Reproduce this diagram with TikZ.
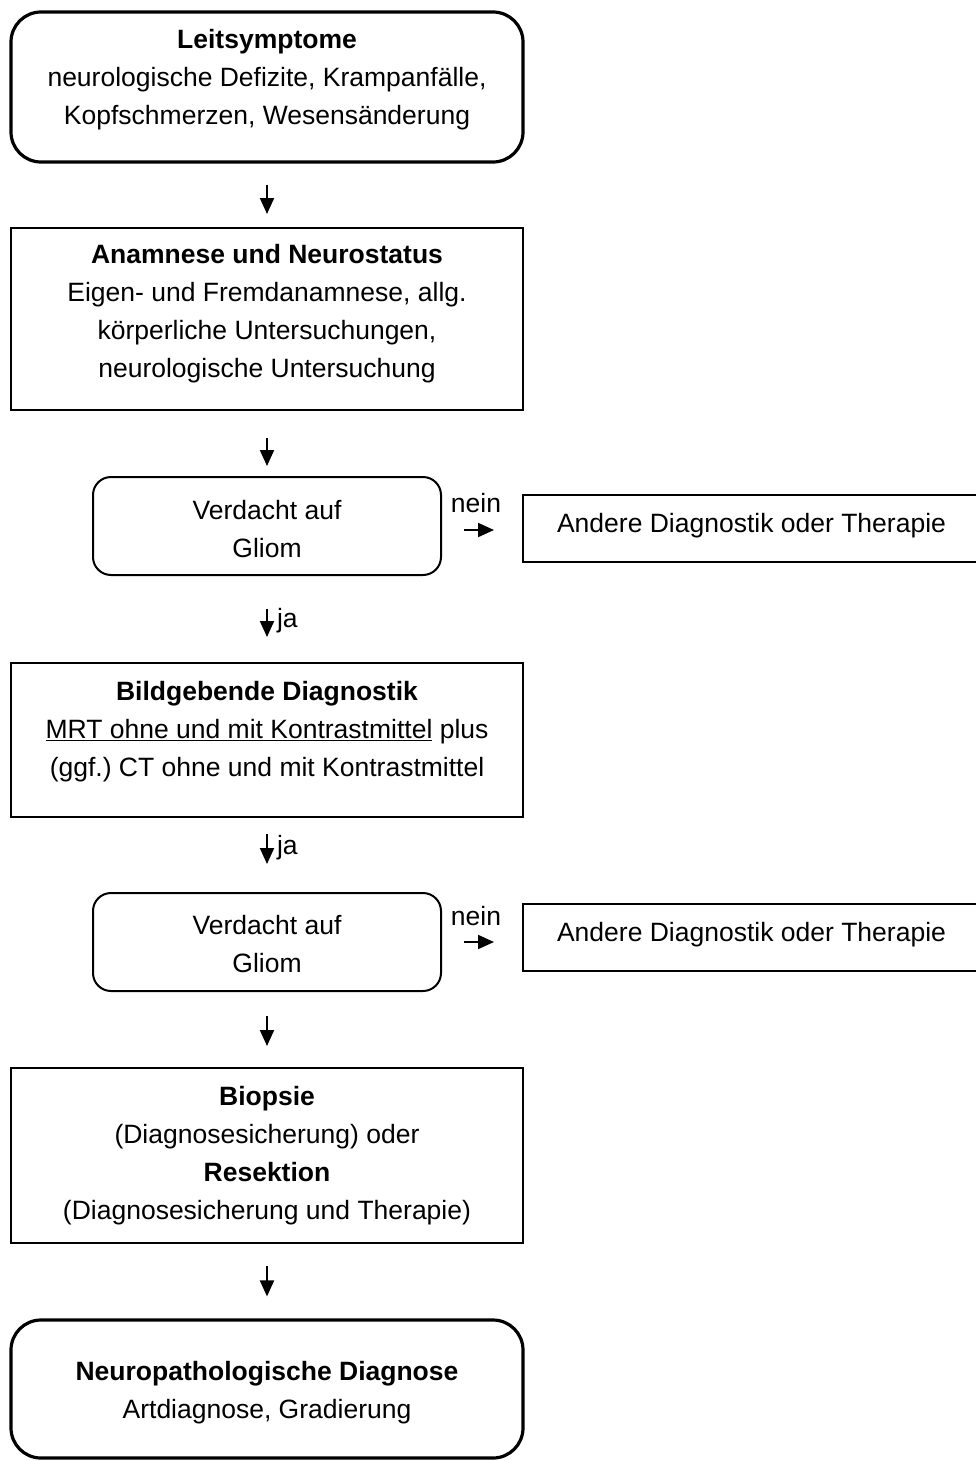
\documentclass[tikz,border=0pt]{standalone}
\usepackage{fontspec}
\setmainfont{Liberation Sans}
\frenchspacing
\usetikzlibrary{arrows.meta}
\begin{document}
\begin{tikzpicture}[x=1pt,y=-1pt,
  every node/.style={font=\fontsize{26.5}{38}\selectfont},
  bigbox/.style={draw, rectangle, line width=3.2pt, rounded corners=30pt, minimum width=512pt},
  plainbox/.style={draw, rectangle, line width=2pt, minimum width=512pt},
  askbox/.style={draw, rectangle, line width=2pt, rounded corners=18pt, minimum width=348pt, minimum height=98pt},
  otherbox/.style={draw, rectangle, line width=2pt, minimum width=477pt, minimum height=67pt},
  txt/.style={align=center, inner sep=0pt},
  lbl/.style={inner sep=0pt},
  arr/.style={line width=2pt, -{Triangle[width=14pt,length=16pt]}}
]
\useasboundingbox (0,0) rectangle (975,1461);
% boxes
\node[bigbox, minimum height=150pt] (b1) at (267,87) {};
\node[plainbox, minimum height=182pt] (b2) at (267,319) {};
\node[askbox] (v1) at (267,526) {};
\node[otherbox] (n1) at (761.5,528) {};
\node[plainbox, minimum height=154pt] (b3) at (267,740) {};
\node[askbox] (v2) at (267,942) {};
\node[otherbox] (n2) at (761.5,937) {};
\node[plainbox, minimum height=175pt] (b4) at (267,1155.5) {};
\node[bigbox, minimum height=138pt] (b5) at (267,1389) {};
% texts
\node[txt] (t1) at (267,80) {\textbf{Leitsymptome}\\neurologische Defizite, Krampanfälle,\\Kopfschmerzen, Wesensänderung};
\node[txt] (t2) at (267,314) {\textbf{Anamnese und Neurostatus}\\Eigen- und Fremdanamnese, allg.\\körperliche Untersuchungen,\\neurologische Untersuchung};
\node[txt] (tv1) at (267,529) {Verdacht auf\\Gliom};
\node[txt] (tn1) at (751.5,526) {Andere Diagnostik oder Therapie};
\node[txt] (t3) at (267,731.5) {\textbf{Bildgebende Diagnostik}\\\underline{MRT ohne und mit Kontrastmittel} plus\\(ggf.) CT ohne und mit Kontrastmittel};
\node[txt] (tv2) at (267,944.5) {Verdacht auf\\Gliom};
\node[txt] (tn2) at (751.5,935) {Andere Diagnostik oder Therapie};
\node[txt] (t4) at (267,1156) {\textbf{Biopsie}\\(Diagnosesicherung) oder\\\textbf{Resektion}\\(Diagnosesicherung und Therapie)};
\node[txt] (t5) at (267,1393) {\textbf{Neuropathologische Diagnose}\\Artdiagnose, Gradierung};
% vertical connectors
\draw[arr] ([yshift=-21pt]b1.south) -- ([yshift=13pt]b2.north);
\draw[arr] ([yshift=-27pt]b2.south) -- ([yshift=10pt]v1.north);
\draw[arr] ([yshift=-33pt]v1.south) -- node[right, lbl, xshift=9pt, pos=0.4] (ja1) {ja} ([yshift=25pt]b3.north);
\draw[arr] ([yshift=-16pt]b3.south) -- node[right, lbl, xshift=9pt, pos=0.44] (ja2) {ja} ([yshift=28pt]v2.north);
\draw[arr] ([yshift=-24pt]v2.south) -- ([yshift=21pt]b4.north);
\draw[arr] ([yshift=-22pt]b4.south) -- ([yshift=22pt]b5.north);
% horizontal connectors
\draw[arr] ([xshift=22pt,yshift=-2pt]v1.east |- n1.west) -- node[lbl, yshift=27pt, pos=0.4] (nein1) {nein} ([xshift=-28pt,yshift=-2pt]n1.west);
\draw[arr] ([xshift=22pt,yshift=-5pt]v2.east |- n2.west) -- node[lbl, yshift=26pt, pos=0.4] (nein2) {nein} ([xshift=-28pt,yshift=-5pt]n2.west);
\end{tikzpicture}
\end{document}
